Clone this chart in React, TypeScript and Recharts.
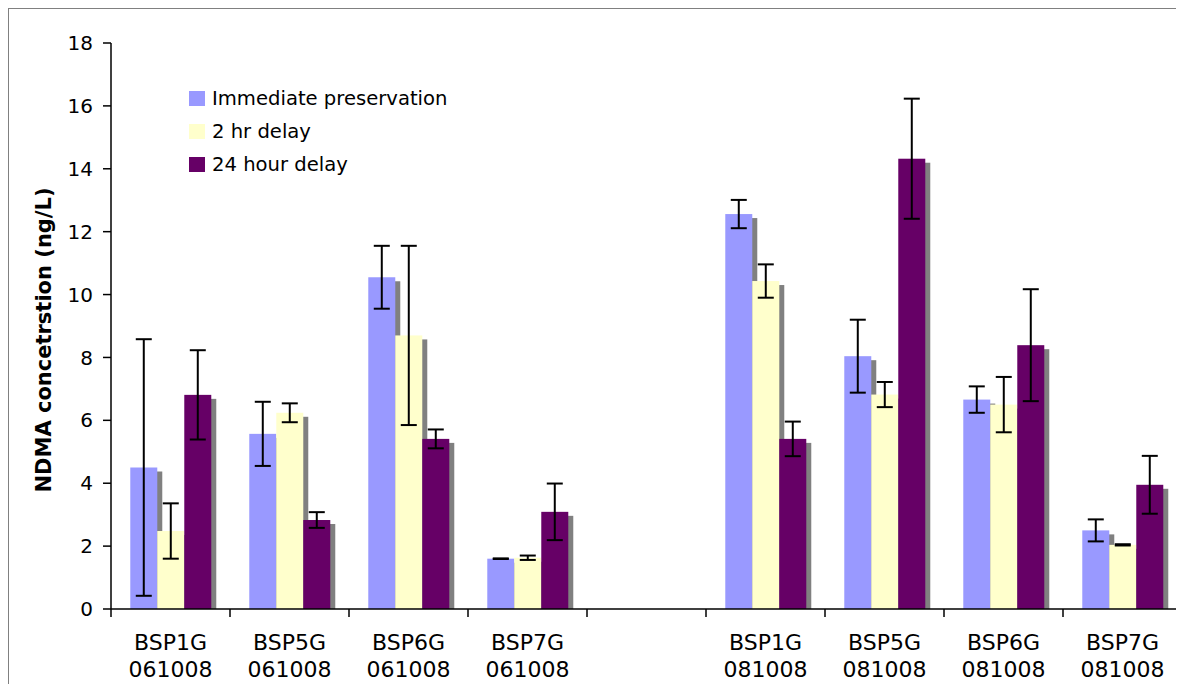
import React from 'react';
import { BarChart, Bar, XAxis, YAxis, ErrorBar, Legend } from 'recharts';

// Sample sites and sampling dates (blank slot separates the two sampling runs)
const sites = ['BSP1G', 'BSP5G', 'BSP6G', 'BSP7G', '', 'BSP1G', 'BSP5G', 'BSP6G', 'BSP7G'];
const dates = ['061008', '061008', '061008', '061008', '', '081008', '081008', '081008', '081008'];

// NDMA concentration (ng/L) and standard deviation per preservation treatment
const immediate = [4.5, 5.57, 10.55, 1.6, null, 12.56, 8.04, 6.66, 2.5];
const immediateErr = [4.08, 1.02, 1.0, 0.01, null, 0.45, 1.16, 0.42, 0.35];
const twoHour = [2.48, 6.24, 8.7, 1.63, null, 10.43, 6.82, 6.5, 2.04];
const twoHourErr = [0.88, 0.3, 2.85, 0.07, null, 0.53, 0.4, 0.88, 0.02];
const dayDelay = [6.81, 2.83, 5.41, 3.09, null, 5.41, 14.32, 8.39, 3.95];
const dayDelayErr = [1.42, 0.25, 0.3, 0.9, null, 0.55, 1.91, 1.78, 0.92];

const yTicks = [0, 2, 4, 6, 8, 10, 12, 14, 16, 18];

const FONT = '"DejaVu Sans", Verdana, sans-serif';

const series = [
  { key: 'immediate', err: 'immediateErr', name: 'Immediate preservation', color: '#9999FF' },
  { key: 'twoHour', err: 'twoHourErr', name: '2 hr delay', color: '#FFFFCC' },
  { key: 'dayDelay', err: 'dayDelayErr', name: '24 hour delay', color: '#660066' },
];

const data = sites.map((site, i) => ({
  cat: site ? `${site} ${dates[i]}` : 'gap',
  site,
  date: dates[i],
  immediate: immediate[i],
  immediateErr: immediateErr[i],
  twoHour: twoHour[i],
  twoHourErr: twoHourErr[i],
  dayDelay: dayDelay[i],
  dayDelayErr: dayDelayErr[i],
}));

// Bar with a grey drop shadow offset to the lower right
const ShadowBar = (props: any) => {
  const { x, y, width, height, fill } = props;
  if (height == null || !(height > 0)) return <g />;
  return (
    <g>
      <rect x={x + 5} y={y + 4} width={width} height={Math.max(height - 4, 0)} fill="#808080" />
      <rect x={x} y={y} width={width} height={height} fill={fill} />
    </g>
  );
};

// Two-line category label with tick marks between categories
const CategoryTick = (props: any) => {
  const { x, y, payload, index, visibleTicksCount } = props;
  const half = payload && typeof payload.offset === 'number' ? payload.offset : 59.5;
  const row = data.find((d) => d.cat === payload.value);
  return (
    <g>
      <line x1={x - half} x2={x - half} y1={y} y2={y + 8} stroke="#000" strokeWidth={1.5} />
      {index === visibleTicksCount - 1 && (
        <line x1={x + half} x2={x + half} y1={y} y2={y + 8} stroke="#000" strokeWidth={1.5} />
      )}
      {row && row.site && (
        <>
          <text x={x} y={y + 41} textAnchor="middle" fontSize={22} fontFamily={FONT} fill="#000">
            {row.site}
          </text>
          <text x={x} y={y + 68} textAnchor="middle" fontSize={22} fontFamily={FONT} fill="#000">
            {row.date}
          </text>
        </>
      )}
    </g>
  );
};

const YTitle = (props: any) => {
  const vb = props.viewBox || { x: 0, y: 35, width: 103, height: 566 };
  const cx = vb.x + 36;
  const cy = vb.y + vb.height / 2 + 14;
  return (
    <text
      x={cx}
      y={cy}
      transform={`rotate(-90 ${cx} ${cy})`}
      textAnchor="middle"
      dominantBaseline="central"
      fontSize={21}
      fontWeight="bold"
      fontFamily={FONT}
      fill="#000"
    >
      NDMA concetrstion (ng/L)
    </text>
  );
};

const LegendBox = () => (
  <div style={{ fontFamily: FONT, fontSize: 19.6, color: '#000', margin: 0, padding: 0 }}>
    {series.map((s) => (
      <div key={s.key} style={{ display: 'flex', alignItems: 'center', height: 33, whiteSpace: 'nowrap' }}>
        <span style={{ display: 'inline-block', width: 16, height: 15, background: s.color, marginRight: 7 }} />
        <span>{s.name}</span>
      </div>
    ))}
  </div>
);

export default function App() {
  return (
    <div style={{ position: 'relative', width: 1176, height: 676, overflow: 'hidden' }}>
      <style>{'body{overflow:hidden}'}</style>
      <div
        style={{
          position: 'absolute',
          left: 0,
          top: 0,
          width: 1200,
          height: 720,
          border: '1.5px solid #808080',
          boxSizing: 'border-box',
        }}
      />
      <BarChart
        width={1176}
        height={676}
        data={data}
        margin={{ top: 35, right: 2, left: 0, bottom: 0 }}
        barCategoryGap="16.2%"
        barGap={0}
      >
        <XAxis
          dataKey="cat"
          height={75}
          interval={0}
          tickLine={false}
          tickSize={0}
          tickMargin={0}
          axisLine={{ stroke: '#000', strokeWidth: 1.5 }}
          tick={<CategoryTick />}
        />
        <XAxis
          xAxisId="top"
          orientation="top"
          dataKey="cat"
          height={0}
          tick={false}
          tickLine={false}
          axisLine={{ stroke: '#808080', strokeWidth: 1.5 }}
        />
        <YAxis
          width={103}
          domain={[0, 18]}
          ticks={yTicks}
          interval={0}
          tickSize={8}
          tickMargin={10}
          axisLine={{ stroke: '#000', strokeWidth: 1.5 }}
          tickLine={{ stroke: '#000', strokeWidth: 1.5 }}
          tick={{ fontSize: 20, fontFamily: FONT, fill: '#000' }}
          label={{ content: <YTitle /> }}
        />
        <YAxis
          yAxisId="right"
          orientation="right"
          width={0}
          domain={[0, 18]}
          tick={false}
          tickLine={false}
          axisLine={{ stroke: '#808080', strokeWidth: 1.5 }}
        />
        <Legend
          layout="vertical"
          align="center"
          verticalAlign="middle"
          wrapperStyle={{ top: 74, left: 181, width: 'auto', height: 'auto' }}
          content={() => <LegendBox />}
        />
        {series.map((s) => (
          <Bar
            key={s.key}
            dataKey={s.key}
            name={s.name}
            fill={s.color}
            shape={ShadowBar}
            isAnimationActive={false}
          >
            <ErrorBar dataKey={s.err} width={8} stroke="#000" strokeWidth={2} direction="y" isAnimationActive={false} />
          </Bar>
        ))}
      </BarChart>
    </div>
  );
}
